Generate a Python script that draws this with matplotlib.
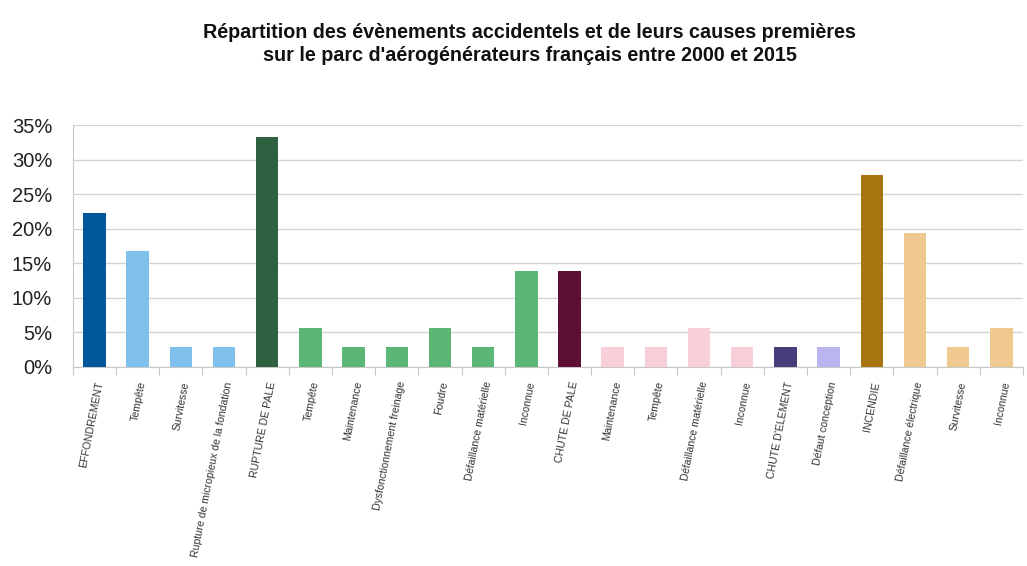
import matplotlib
matplotlib.use("Agg")
import matplotlib.pyplot as plt
from matplotlib.ticker import FuncFormatter

plt.rcParams['font.family'] = ['Liberation Sans', 'DejaVu Sans']

categories = ["EFFONDREMENT", "Tempête", "Survitesse", "Rupture de micropieux de la fondation",
              "RUPTURE DE PALE", "Tempête", "Maintenance", "Dysfonctionnement freinage",
              "Foudre", "Défaillance matérielle", "Inconnue", "CHUTE DE PALE",
              "Maintenance", "Tempête", "Défaillance matérielle", "Inconnue",
              "CHUTE D'ELEMENT", "Défaut conception", "INCENDIE", "Défaillance électrique",
              "Survitesse", "Inconnue"]
values = [22.2, 16.7, 2.8, 2.8,
          33.3, 5.6, 2.8, 2.8, 5.6, 2.8, 13.9,
          13.9, 2.8, 2.8, 5.6, 2.8,
          2.8, 2.8,
          27.8, 19.4, 2.8, 5.6]
colors = ["#00579a", "#80c0ec", "#80c0ec", "#80c0ec",
          "#2e6140", "#5cb676", "#5cb676", "#5cb676", "#5cb676", "#5cb676", "#5cb676",
          "#5e1034", "#f6cfd8", "#f6cfd8", "#f6cfd8", "#f6cfd8",
          "#473f7c", "#bab5ee",
          "#a67510", "#efc98f", "#efc98f", "#efc98f"]
title = "Répartition des évènements accidentels et de leurs causes premières\nsur le parc d'aérogénérateurs français entre 2000 et 2015"

fig = plt.figure(figsize=(10.27, 5.66), dpi=100)
ax = fig.add_axes([0.071, 0.352, 0.925, 0.427])

x = list(range(len(categories)))
ax.bar(x, values, width=0.52, color=colors, zorder=3)
ax.set_xlim(-0.5, len(categories) - 0.5)
ax.set_ylim(0, 35)
ax.set_yticks(range(0, 36, 5))
ax.yaxis.set_major_formatter(FuncFormatter(lambda v, p: f"{int(v)}%"))
ax.tick_params(axis='y', labelsize=14.5, length=0, pad=15, colors='#222222')
ax.grid(axis='y', color='#d4d4d4', linewidth=1.0, zorder=0)

ax.set_xticks([i - 0.5 for i in range(len(categories) + 1)])
ax.set_xticklabels([])
ax.set_xticks(x, minor=True)
ax.set_xticklabels(categories, minor=True, rotation=79, ha='right', va='top',
                   rotation_mode='anchor', fontsize=7.6, color='#333333')
ax.tick_params(axis='x', which='major', length=6, color='#c8c8c8', direction='out')
ax.tick_params(axis='x', which='minor', length=0, pad=10)

for s in ['top', 'right']:
    ax.spines[s].set_visible(False)
ax.spines['left'].set_color('#c8c8c8')
ax.spines['bottom'].set_color('#c8c8c8')

fig.text(0.516, 0.922, title, ha='center', va='center', fontsize=14.2,
         fontweight='bold', color='#111111', linespacing=1.25)

fig.savefig("out.png", dpi=100, facecolor='white')
